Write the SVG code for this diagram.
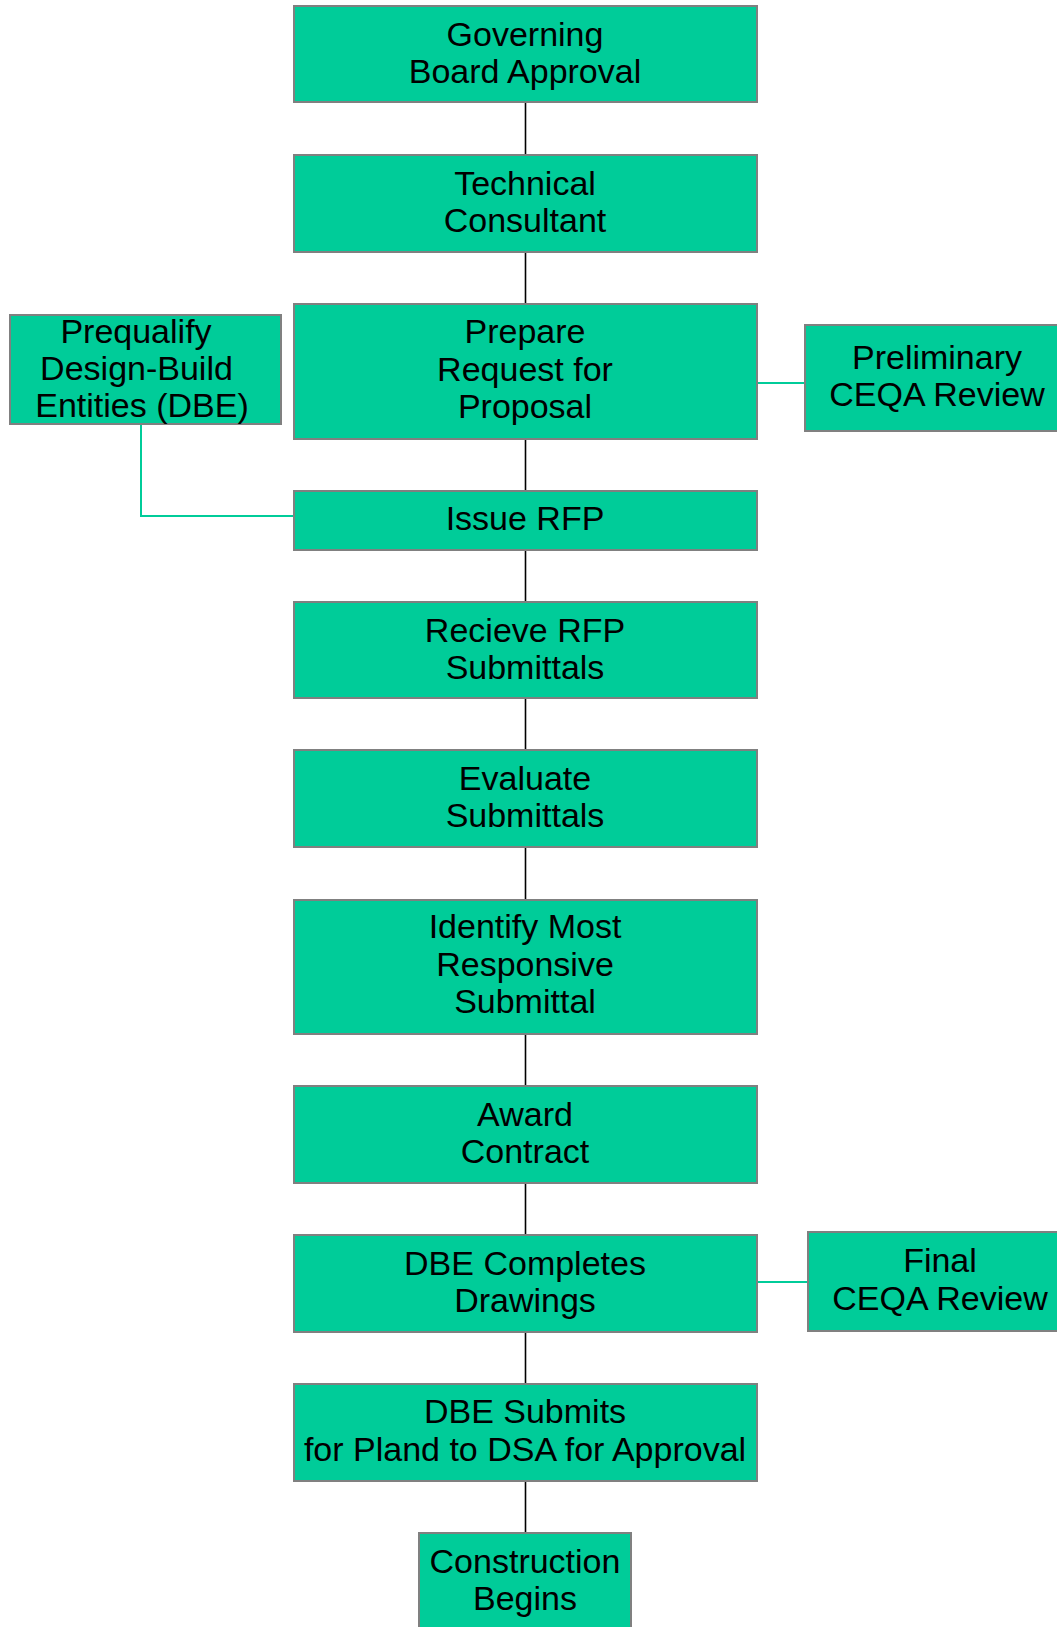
<svg xmlns="http://www.w3.org/2000/svg" width="1057" height="1627" viewBox="0 0 1057 1627">
<style>
.box{fill:#00CC99;stroke:#808080;stroke-width:2}
.t{font-family:"Liberation Sans",Arial,sans-serif;font-size:34px;fill:#000;text-anchor:middle}
.c{stroke:#000;stroke-width:1.6;fill:none}
.g{stroke:#00CC99;stroke-width:2;fill:none}
</style>
<rect width="1057" height="1627" fill="#fff"/>
<g id="connectors">
<line class="c" x1="525.5" y1="102" x2="525.5" y2="155"/>
<line class="c" x1="525.5" y1="252" x2="525.5" y2="304"/>
<line class="c" x1="525.5" y1="439" x2="525.5" y2="491"/>
<line class="c" x1="525.5" y1="550" x2="525.5" y2="602"/>
<line class="c" x1="525.5" y1="698" x2="525.5" y2="750"/>
<line class="c" x1="525.5" y1="847" x2="525.5" y2="900"/>
<line class="c" x1="525.5" y1="1034" x2="525.5" y2="1086"/>
<line class="c" x1="525.5" y1="1183" x2="525.5" y2="1235"/>
<line class="c" x1="525.5" y1="1332" x2="525.5" y2="1384"/>
<line class="c" x1="525.5" y1="1481" x2="525.5" y2="1533"/>
<polyline class="g" points="141,424 141,516 294,516"/>
<line class="g" x1="757" y1="383" x2="805" y2="383"/>
<line class="g" x1="757" y1="1282" x2="808" y2="1282"/>
</g>
<g id="n1"><rect class="box" x="294" y="6" width="463" height="96"/><text class="t" x="525" y="46">Governing</text><text class="t" x="525" y="83">Board Approval</text></g>
<g id="n2"><rect class="box" x="294" y="155" width="463" height="97"/><text class="t" x="525" y="195">Technical</text><text class="t" x="525" y="232">Consultant</text></g>
<g id="n3"><rect class="box" x="294" y="304" width="463" height="135"/><text class="t" x="525" y="343">Prepare</text><text class="t" x="525" y="381">Request for</text><text class="t" x="525" y="418">Proposal</text></g>
<g id="n4"><rect class="box" x="10" y="315" width="271" height="109"/><text class="t" x="136" y="343">Prequalify</text><text class="t" x="136.5" y="380">Design-Build</text><text class="t" x="142" y="417">Entities (DBE)</text></g>
<g id="n5"><rect class="box" x="805" y="325" width="254" height="106"/><text class="t" x="937" y="369">Preliminary</text><text class="t" x="937" y="406">CEQA Review</text></g>
<g id="n6"><rect class="box" x="294" y="491" width="463" height="59"/><text class="t" x="525" y="530">Issue RFP</text></g>
<g id="n7"><rect class="box" x="294" y="602" width="463" height="96"/><text class="t" x="525" y="642">Recieve RFP</text><text class="t" x="525" y="679">Submittals</text></g>
<g id="n8"><rect class="box" x="294" y="750" width="463" height="97"/><text class="t" x="525" y="790">Evaluate</text><text class="t" x="525" y="827">Submittals</text></g>
<g id="n9"><rect class="box" x="294" y="900" width="463" height="134"/><text class="t" x="525" y="938">Identify Most</text><text class="t" x="525" y="976">Responsive</text><text class="t" x="525" y="1013">Submittal</text></g>
<g id="n10"><rect class="box" x="294" y="1086" width="463" height="97"/><text class="t" x="525" y="1126">Award</text><text class="t" x="525" y="1163">Contract</text></g>
<g id="n11"><rect class="box" x="294" y="1235" width="463" height="97"/><text class="t" x="525" y="1275">DBE Completes</text><text class="t" x="525" y="1312">Drawings</text></g>
<g id="n12"><rect class="box" x="808" y="1232" width="251" height="99"/><text class="t" x="940" y="1272">Final</text><text class="t" x="940" y="1310">CEQA Review</text></g>
<g id="n13"><rect class="box" x="294" y="1384" width="463" height="97"/><text class="t" x="525" y="1423">DBE Submits</text><text class="t" x="525" y="1461">for Pland to DSA for Approval</text></g>
<g id="n14"><rect class="box" x="419" y="1533" width="212" height="110"/><text class="t" x="525" y="1573">Construction</text><text class="t" x="525" y="1610">Begins</text></g>
</svg>
